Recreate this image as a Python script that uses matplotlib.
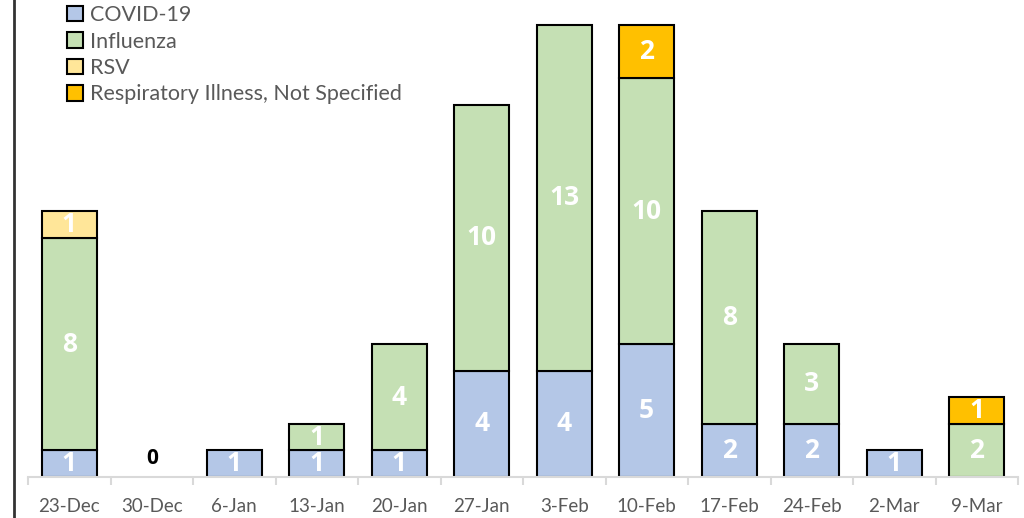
import numpy as np
import matplotlib.pyplot as plt
from matplotlib.lines import Line2D
from matplotlib.patches import Patch

plt.rcParams["font.family"] = ["Lato", "DejaVu Sans"]

weeks = ["23-Dec", "30-Dec", "6-Jan", "13-Jan", "20-Jan", "27-Jan",
         "3-Feb", "10-Feb", "17-Feb", "24-Feb", "2-Mar", "9-Mar"]
covid = [1, 0, 1, 1, 1, 4, 4, 5, 2, 2, 1, 0]
influenza = [8, 0, 0, 1, 4, 10, 13, 10, 8, 3, 0, 2]
rsv = [1, 0, 0, 0, 0, 0, 0, 0, 0, 0, 0, 0]
resp_ns = [0, 0, 0, 0, 0, 0, 0, 2, 0, 0, 0, 1]

series = [
    ("COVID-19", covid, "#B4C7E7"),
    ("Influenza", influenza, "#C5E0B4"),
    ("RSV", rsv, "#FFE699"),
    ("Respiratory Illness, Not Specified", resp_ns, "#FFC000"),
]
label_font = ["Open Sans", "DejaVu Sans"]

fig = plt.figure(figsize=(10.24, 5.18), dpi=100)
ax = fig.add_axes([28 / 1024, 41 / 518, 990 / 1024, 477 / 518])

x = np.arange(len(weeks))
bottom = np.zeros(len(weeks))
handles = []
for name, vals, color in series:
    vals = np.array(vals, dtype=float)
    lws = [1.5 if v > 0 else 0 for v in vals]
    ax.bar(x, vals, width=0.667, bottom=bottom, color=color,
           edgecolor="black", linewidth=lws)
    handles.append(Patch(facecolor=color, edgecolor="black", linewidth=1.5,
                         label=name))
    for xi, b, v in zip(x, bottom, vals):
        if v > 0:
            ax.text(xi, b + v / 2, f"{int(v)}", ha="center", va="center",
                    color="white", fontsize=19, fontweight="bold",
                    family=label_font)
    bottom += vals

# weeks with no cases get a black zero label
for xi, tot in zip(x, bottom):
    if tot == 0:
        ax.text(xi, 0.3, "0", ha="center", va="bottom", color="black",
                fontsize=15, fontweight="bold", family=label_font)

ax.set_xlim(-0.5, len(weeks) - 0.5)
ax.set_ylim(0, 17.95)
ax.set_yticks([])
ax.set_xticks(x)
ax.set_xticklabels(weeks, fontsize=13.5, color="#595959")
ax.set_xticks(np.arange(-0.5, len(weeks)), minor=True)
ax.tick_params(axis="x", which="major", length=0, pad=15)
ax.tick_params(axis="x", which="minor", length=6, color="#D9D9D9", width=1.5)
for s in ["top", "right", "left"]:
    ax.spines[s].set_visible(False)
ax.spines["bottom"].set_color("#D9D9D9")
ax.spines["bottom"].set_linewidth(1.5)

ax.legend(handles=handles, loc="upper left", bbox_to_anchor=(0.02, 1.03),
          frameon=False, fontsize=15.5, handlelength=0.75, handleheight=0.75,
          handletextpad=0.3, labelspacing=0.3, labelcolor="#595959")

fig.add_artist(Line2D([14 / 1024, 14 / 1024], [0, 1], color="#333333", lw=2))

fig.savefig("out.png", dpi=100)
